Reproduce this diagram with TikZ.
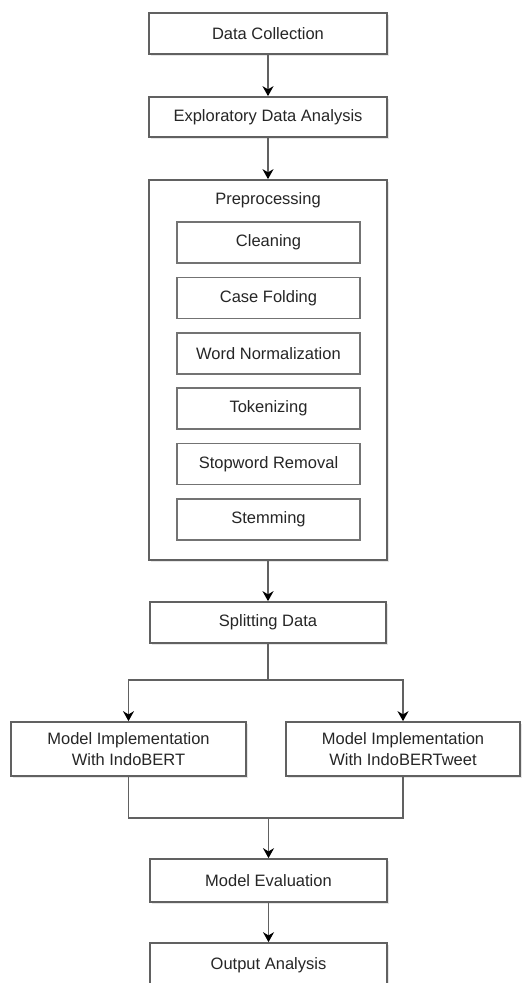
\documentclass[tikz,border=0pt]{standalone}
\usepackage{fontspec}
\setmainfont{Liberation Sans}
\usetikzlibrary{arrows.meta,shadows}

\begin{document}
\begin{tikzpicture}[x=1pt,y=-1pt,>={Stealth[length=10pt,width=11pt,color=black]},
  font=\fontsize{16.5}{20.5}\selectfont,
  box/.style={draw=black!62,line width=1.7pt,fill=white,text=black!85,
    minimum width=238pt,minimum height=41pt,inner sep=0pt,align=center,
    drop shadow={shadow xshift=1.5pt,shadow yshift=-1.5pt,opacity=.2}},
  subbox/.style={draw=black!55,line width=1.7pt,fill=white,text=black!85,
    minimum width=183pt,minimum height=41pt,inner sep=0pt},
  flow/.style={->,draw=black!62,line width=1.7pt},
  link/.style={draw=black!62,line width=1.7pt}]
  \useasboundingbox (0,0) rectangle (528,983);
  \node[box] (collect) at (268,33.5) {Data Collection};
  \node[box,minimum height=40pt] (eda) at (268,117) {Exploratory Data Analysis};
  \node[box,minimum height=380pt] (prep) at (268,370) {};
  \node[text=black!85] (preplabel) at (268,200) {Preprocessing};
  \foreach \name [count=\i] in {Cleaning,Case Folding,Word Normalization,
      Tokenizing,Stopword Removal,Stemming}
    \node[subbox] (pre\i) at (268.5,{242.5+55.4*(\i-1)}) {\name};
  \node[box,minimum width=236pt] (split) at (268,622.5) {Splitting Data};
  \node[box,minimum width=235pt,minimum height=54pt] (bert) at (128.5,749)
    {Model Implementation\\With IndoBERT};
  \node[box,minimum width=234pt,minimum height=54pt] (tweet) at (403,749)
    {Model Implementation\\With IndoBERTweet};
  \node[box,minimum width=237pt,minimum height=43pt] (eval) at (268.5,880.5) {Model Evaluation};
  \node[box,minimum width=237pt,minimum height=44pt] (output) at (268.5,965) {Output Analysis};
  \coordinate (merge) at (268.5,818);

  \draw[flow] (collect) -- (eda);
  \draw[flow] (eda) -- (prep);
  \draw[flow] (prep) -- (split);
  \draw[flow] (split.south) -- ++(0,36) -| (bert.north);
  \draw[flow] (split.south) -- ++(0,36) -| (tweet.north);
  \draw[link] (bert.south) |- (merge) -| (tweet.south);
  \draw[flow] (merge) -- (eval);
  \draw[flow] (eval) -- (output);
\end{tikzpicture}
\end{document}
